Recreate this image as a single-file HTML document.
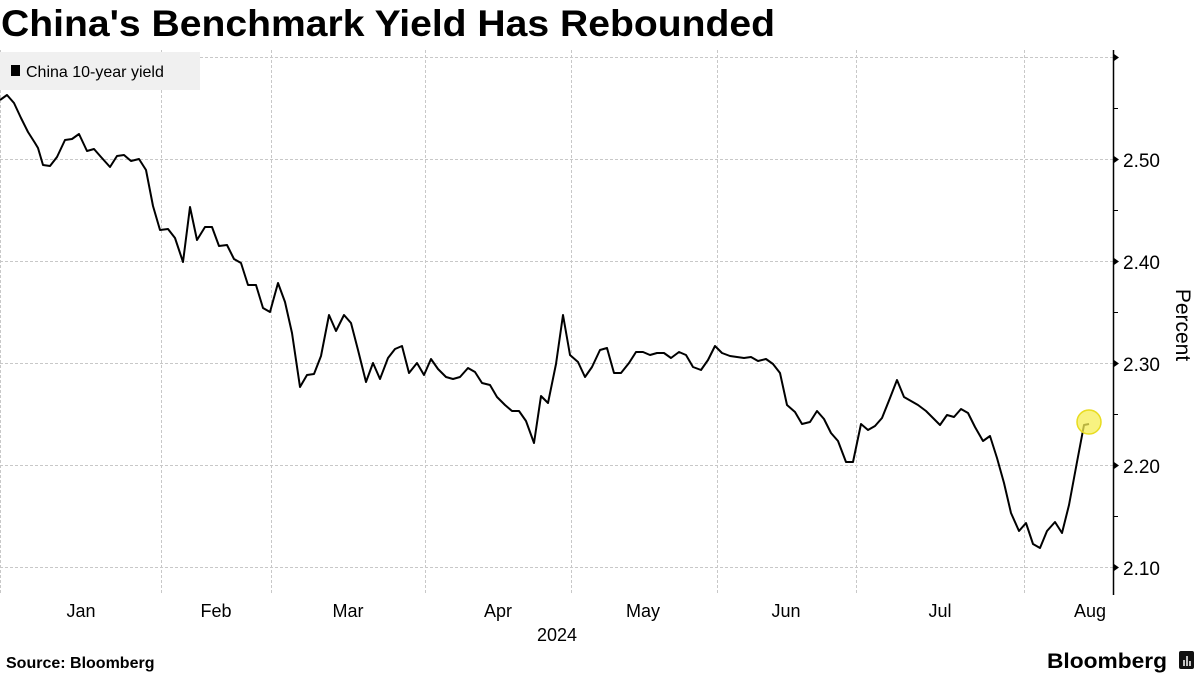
<!DOCTYPE html>
<html><head><meta charset="utf-8"><style>
html,body{margin:0;padding:0;background:#fff;width:1200px;height:675px;overflow:hidden}
svg{display:block;font-family:"Liberation Sans","DejaVu Sans",sans-serif}
</style></head><body>
<svg width="1200" height="675" viewBox="0 0 1200 675" xmlns="http://www.w3.org/2000/svg">
<text x="1" y="36" font-size="37" font-weight="bold" textLength="774" lengthAdjust="spacingAndGlyphs">China's Benchmark Yield Has Rebounded</text>
<g stroke="#c8c8c8" stroke-width="1" stroke-dasharray="3,2" fill="none">
<line x1="0" y1="57.5" x2="1113" y2="57.5"/>
<line x1="0" y1="159.5" x2="1113" y2="159.5"/>
<line x1="0" y1="261.5" x2="1113" y2="261.5"/>
<line x1="0" y1="363.5" x2="1113" y2="363.5"/>
<line x1="0" y1="465.5" x2="1113" y2="465.5"/>
<line x1="0" y1="567.5" x2="1113" y2="567.5"/>
<line x1="0.5" y1="50" x2="0.5" y2="595"/>
<line x1="161.5" y1="50" x2="161.5" y2="595"/>
<line x1="271.5" y1="50" x2="271.5" y2="595"/>
<line x1="425.5" y1="50" x2="425.5" y2="595"/>
<line x1="571.5" y1="50" x2="571.5" y2="595"/>
<line x1="717.5" y1="50" x2="717.5" y2="595"/>
<line x1="856.5" y1="50" x2="856.5" y2="595"/>
<line x1="1024.5" y1="50" x2="1024.5" y2="595"/>
</g>
<rect x="0" y="52" width="200" height="38" fill="#f0f0f0"/>
<rect x="11" y="65" width="9" height="11" fill="#000"/>
<text x="26" y="77" font-size="16">China 10-year yield</text>
<polyline fill="none" stroke="#000" stroke-width="2" stroke-linejoin="round" points="0,100 7,95 14,103 21,118 28,132 35,143 38,148 43,165 50,166 57,157 65,140 72,139 79,134 87,151 94,149 101,157 110,167 117,156 124,155 131,161 139,159 146,170 153,206 160,230 168,229 175,238 183,262 190,207 197,240 205,227 212,227 219,246 227,245 234,259 241,263 248,285 256,285 263,308 270,312 278,283 285,302 292,333 300,387 307,375 314,374 321,356 329,315 336,331 344,315 351,323 358,350 366,382 373,363 380,379 388,358 395,349 402,346 409,373 417,363 424,375 431,359 438,369 446,377 453,379 460,377 468,368 475,372 482,383 490,385 497,397 505,405 512,411 519,411 526,421 534,443 541,396 548,403 556,364 563,315 570,355 578,362 585,377 592,367 600,350 607,348 614,373 621,373 629,363 636,352 643,352 650,355 657,353 664,353 671,358 679,352 686,355 693,367 701,370 708,360 715,346 722,353 730,356 737,357 744,358 751,357 758,361 766,359 773,364 780,373 787,405 795,412 802,424 810,422 817,411 824,419 831,433 838,441 846,462 853,462 861,424 868,430 875,426 882,418 890,398 897,380 904,397 911,401 918,405 926,411 933,418 940,425 947,415 954,417 961,409 968,413 975,427 983,441 990,436 997,458 1004,483 1011,513 1019,531 1026,523 1033,544 1040,548 1047,531 1055,522 1062,533 1069,505 1077,462 1084,425 1089,424"/>
<circle cx="1089" cy="422" r="12" fill="#f5ee55" fill-opacity="0.75" stroke="#e8dc20" stroke-width="1.5"/>
<line x1="1113.5" y1="50" x2="1113.5" y2="595" stroke="#000" stroke-width="1.5"/>
<g fill="#000">
<path d="M1114,54 l5,3.5 l-5,3.5z"/><path d="M1114,156 l5,3.5 l-5,3.5z"/><path d="M1114,258 l5,3.5 l-5,3.5z"/><path d="M1114,360 l5,3.5 l-5,3.5z"/><path d="M1114,462 l5,3.5 l-5,3.5z"/><path d="M1114,564 l5,3.5 l-5,3.5z"/>
</g>
<g stroke="#000" stroke-width="1"><line x1="1114" y1="108.5" x2="1118" y2="108.5"/><line x1="1114" y1="210.5" x2="1118" y2="210.5"/><line x1="1114" y1="312.5" x2="1118" y2="312.5"/><line x1="1114" y1="414.5" x2="1118" y2="414.5"/><line x1="1114" y1="516.5" x2="1118" y2="516.5"/></g>
<g font-size="19">
<text x="1123" y="167">2.50</text><text x="1123" y="269">2.40</text><text x="1123" y="371">2.30</text><text x="1123" y="473">2.20</text><text x="1123" y="575">2.10</text>
</g>
<text transform="translate(1176,325) rotate(90)" font-size="21" text-anchor="middle">Percent</text>
<g font-size="18" text-anchor="middle">
<text x="81" y="617">Jan</text><text x="216" y="617">Feb</text><text x="348" y="617">Mar</text><text x="498" y="617">Apr</text><text x="643" y="617">May</text><text x="786" y="617">Jun</text><text x="940" y="617">Jul</text><text x="1090" y="617">Aug</text>
<text x="557" y="641">2024</text>
</g>
<text x="6" y="668" font-size="16" font-weight="bold">Source: Bloomberg</text>
<text x="1047" y="668" font-size="21" font-weight="bold" textLength="120" lengthAdjust="spacingAndGlyphs">Bloomberg</text>
<rect x="1179" y="651" width="15" height="18" rx="2" fill="#111"/>
<g stroke="#fff" stroke-width="1.5"><line x1="1184" y1="666" x2="1184" y2="660"/><line x1="1187" y1="666" x2="1187" y2="656"/><line x1="1190" y1="666" x2="1190" y2="661"/></g>
</svg>
</body></html>
